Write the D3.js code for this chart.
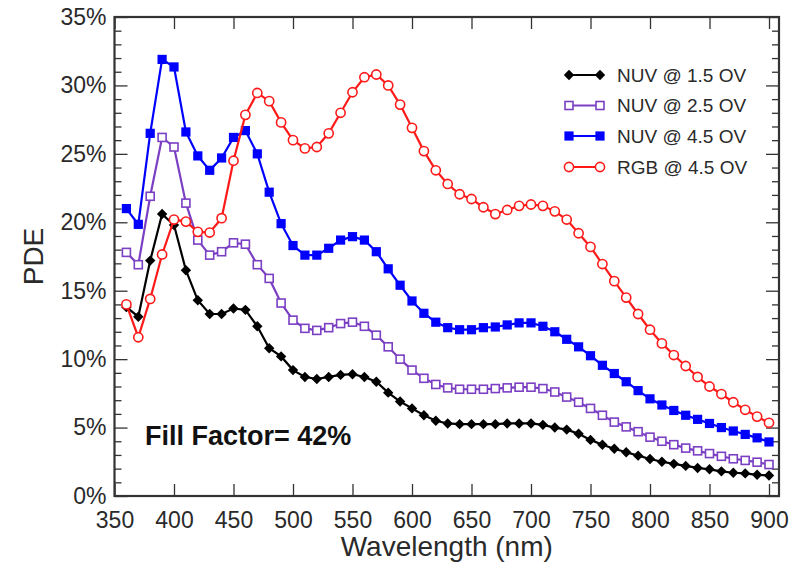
<!DOCTYPE html>
<html><head><meta charset="utf-8">
<script src="https://cdn.jsdelivr.net/npm/d3@7"></script>
<style>body{margin:0;background:#fff}svg{display:block;font-family:"Liberation Sans",Arial,Helvetica,sans-serif}</style>
</head><body><svg id="c" width="805" height="566"></svg>
<script>
const wavelengths = d3.range(360, 901, 10);
const nuv15 = [13.8,13.1,17.2,20.6,19.8,16.5,14.3,13.3,13.3,13.7,13.6,12.4,10.8,10.2,9.2,8.7,8.55,8.7,8.85,8.9,8.7,8.35,7.55,6.9,6.4,5.9,5.5,5.3,5.25,5.25,5.25,5.25,5.3,5.3,5.3,5.2,5.0,4.85,4.55,4.1,3.75,3.45,3.2,2.95,2.7,2.5,2.35,2.2,2.05,1.95,1.8,1.7,1.65,1.55,1.5];
const nuv25 = [17.8,16.9,21.9,26.2,25.5,21.4,18.7,17.6,17.85,18.5,18.4,16.9,15.9,14.1,12.85,12.25,12.1,12.3,12.6,12.7,12.4,11.75,10.9,10.0,9.2,8.6,8.15,7.9,7.8,7.8,7.8,7.85,7.9,7.95,7.95,7.85,7.6,7.23,6.85,6.4,5.9,5.4,5.05,4.7,4.3,4.0,3.75,3.5,3.3,3.1,2.9,2.72,2.6,2.47,2.3];
const nuv45 = [21.0,19.85,26.5,31.9,31.35,26.6,24.85,23.8,24.7,26.2,26.7,25.0,22.2,19.9,18.3,17.6,17.6,18.1,18.7,18.95,18.7,17.85,16.6,15.4,14.25,13.35,12.7,12.3,12.15,12.15,12.3,12.35,12.5,12.65,12.65,12.4,12.0,11.45,10.9,10.25,9.55,8.95,8.35,7.7,7.1,6.65,6.25,5.9,5.6,5.3,5.0,4.75,4.5,4.25,3.95];
const rgb45 = [14.0,11.6,14.4,17.65,20.2,20.05,19.3,19.25,20.3,24.5,27.85,29.45,28.85,27.3,26.0,25.4,25.5,26.5,28.0,29.5,30.6,30.8,30.0,28.6,26.9,25.2,23.8,22.8,22.05,21.7,21.1,20.6,20.9,21.2,21.3,21.2,20.8,20.2,19.2,18.2,16.95,15.7,14.5,13.3,12.15,11.15,10.3,9.5,8.7,8.0,7.45,6.85,6.3,5.8,5.35];
const seriesNames = ["NUV @ 1.5 OV","NUV @ 2.5 OV","NUV @ 4.5 OV","RGB @ 4.5 OV"];
const xTicks = [350,400,450,500,550,600,650,700,750,800,850,900];
const yTicks = [0,5,10,15,20,25,30,35];

const series = [
  {name:seriesNames[0], values:nuv15, color:"#000000", marker:"diamond"},
  {name:seriesNames[1], values:nuv25, color:"#7b3fc4", marker:"opensquare"},
  {name:seriesNames[2], values:nuv45, color:"#0000ff", marker:"square"},
  {name:seriesNames[3], values:rgb45, color:"#ff1a1a", marker:"circle"}
];

const L=114.5, R=779, T=17, B=496;
const x = d3.scaleLinear().domain([350, 908.4]).range([L, R]);
const y = d3.scaleLinear().domain([0, 35]).range([B, T]);
const svg = d3.select("#c");
const axCol = "#333";

const gB = svg.append("g").attr("transform",`translate(0,${B})`)
  .call(d3.axisBottom(x).tickValues(xTicks).tickSize(-12).tickPadding(16).tickFormat(d3.format("d")));
const gT = svg.append("g").attr("transform",`translate(0,${T})`)
  .call(d3.axisTop(x).tickValues(xTicks).tickSize(-12).tickFormat(""));
const yMinor = d3.range(0,36,1).filter(v=>v%5!==0);
const gL = svg.append("g").attr("transform",`translate(${L},0)`)
  .call(d3.axisLeft(y).tickValues(yTicks).tickSize(-13).tickPadding(8).tickFormat(d=>d+"%"));
const gLm = svg.append("g").attr("transform",`translate(${L},0)`)
  .call(d3.axisLeft(y).tickValues(yMinor).tickSize(-7).tickFormat(""));
const gR = svg.append("g").attr("transform",`translate(${R},0)`)
  .call(d3.axisRight(y).tickValues(yTicks).tickSize(-13).tickFormat(""));
const gRm = svg.append("g").attr("transform",`translate(${R},0)`)
  .call(d3.axisRight(y).tickValues(yMinor).tickSize(-7).tickFormat(""));
[gB,gT,gL,gLm,gR,gRm].forEach(g=>{
  g.select(".domain").remove();
  g.selectAll(".tick line").attr("stroke",axCol).attr("stroke-width",1.3);
  g.selectAll("text").attr("fill","#2a2a2a").style("font-size","23px").attr("font-family","Liberation Sans, Arial, sans-serif");
});
gB.selectAll("text").attr("dy","0.71em");
svg.append("rect").attr("x",L).attr("y",T).attr("width",R-L).attr("height",B-T)
  .attr("fill","none").attr("stroke",axCol).attr("stroke-width",2.2);

svg.append("text").attr("x",(L+R)/2).attr("y",556).attr("text-anchor","middle")
  .style("font-size","28px").attr("fill","#2a2a2a").text("Wavelength (nm)");
svg.append("text").attr("transform",`translate(43,${(T+B)/2}) rotate(-90)`).attr("text-anchor","middle")
  .style("font-size","28px").attr("fill","#2a2a2a").text("PDE");

function drawMarker(g, type, cx, cy, color){
  if(type==="diamond"){
    g.append("path").attr("d",`M${cx},${cy-5.2}L${cx+5.2},${cy}L${cx},${cy+5.2}L${cx-5.2},${cy}Z`).attr("fill",color);
  } else if(type==="opensquare"){
    g.append("rect").attr("x",cx-4).attr("y",cy-4).attr("width",8).attr("height",8)
      .attr("fill","#fff").attr("stroke",color).attr("stroke-width",1.6);
  } else if(type==="square"){
    g.append("rect").attr("x",cx-4.6).attr("y",cy-4.6).attr("width",9.2).attr("height",9.2).attr("fill",color);
  } else {
    g.append("circle").attr("cx",cx).attr("cy",cy).attr("r",4.6)
      .attr("fill","#fff").attr("stroke",color).attr("stroke-width",1.6);
  }
}

const line = d3.line().x((d,i)=>x(wavelengths[i])).y(d=>y(d));
series.forEach(s=>{
  const g = svg.append("g");
  g.append("path").datum(s.values).attr("d",line).attr("fill","none")
    .attr("stroke",s.color).attr("stroke-width",2.2);
  s.values.forEach((v,i)=>drawMarker(g,s.marker,x(wavelengths[i]),y(v),s.color));
});

const legY = [75,105.5,136,167];
series.forEach((s,i)=>{
  const g = svg.append("g");
  g.append("line").attr("x1",569).attr("x2",600).attr("y1",legY[i]).attr("y2",legY[i])
    .attr("stroke",s.color).attr("stroke-width",2);
  drawMarker(g,s.marker,569,legY[i],s.color);
  drawMarker(g,s.marker,600,legY[i],s.color);
  g.append("text").attr("x",617).attr("y",legY[i]).attr("dy","0.36em")
    .style("font-size","19px").attr("fill","#2a2a2a").text(s.name);
});

svg.append("text").attr("x",145).attr("y",445).style("font-size","27px").style("font-weight","bold")
  .attr("fill","#111").text("Fill Factor= 42%");
</script></body></html>
